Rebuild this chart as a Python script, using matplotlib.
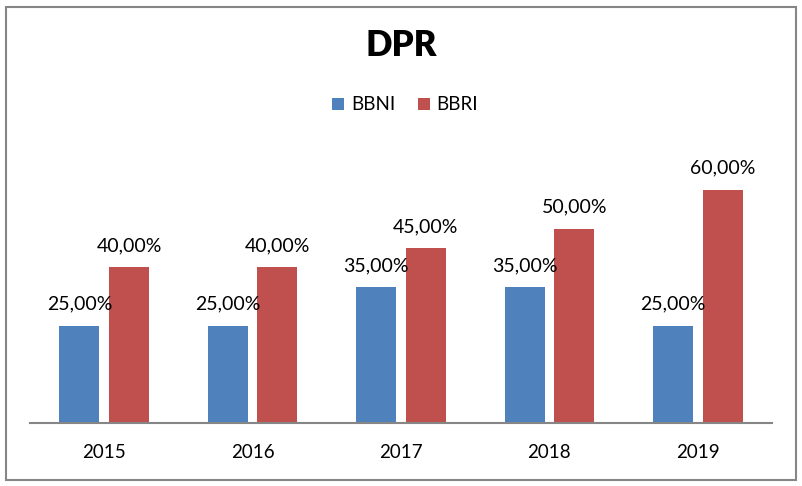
import matplotlib
matplotlib.use("Agg")
import matplotlib.pyplot as plt
from matplotlib.patches import Rectangle
import numpy as np

plt.rcParams['font.family'] = ['Lato', 'DejaVu Sans']

# data
years = ['2015', '2016', '2017', '2018', '2019']
bbni = [25, 25, 35, 35, 25]
bbri = [40, 40, 45, 50, 60]

blue = '#4F81BD'
red = '#C0504D'
grey = '#868686'

fig = plt.figure(figsize=(8.02, 4.86), dpi=100)
ax = fig.add_axes([30 / 802, 63 / 486, 742 / 802, 273 / 486])

x = np.arange(len(years))
w = 0.27
off = 0.167
b1 = ax.bar(x - off, bbni, w, color=blue, label='BBNI')
b2 = ax.bar(x + off, bbri, w, color=red, label='BBRI')

# data labels above each bar
for bars, vals in [(b1, bbni), (b2, bbri)]:
    for rect, v in zip(bars, vals):
        ax.annotate(f'{v:.2f}%'.replace('.', ','),
                    (rect.get_x() + rect.get_width() / 2, rect.get_height()),
                    xytext=(0, 11.5), textcoords='offset points',
                    ha='center', va='baseline', fontsize=14)

ax.set_xlim(-0.5, len(years) - 0.5)
ax.set_ylim(0, 70.2)
ax.set_xticks(x)
ax.set_xticklabels(years, fontsize=13.5)
ax.tick_params(axis='x', length=0, pad=15)
ax.set_yticks([])
for s in ['top', 'right', 'left']:
    ax.spines[s].set_visible(False)
ax.spines['bottom'].set_color(grey)
ax.spines['bottom'].set_linewidth(1.5)

fig.text(401 / 802, 1 - 46 / 486, 'DPR', ha='center', va='center',
         fontsize=25, fontweight='heavy')

fig.legend(handles=[b1, b2], loc='center', bbox_to_anchor=(405 / 802, 1 - 105 / 486),
           ncol=2, frameon=False, fontsize=13.5, handlelength=0.65, handleheight=0.65,
           handletextpad=0.35, columnspacing=1.2)

# outer chart border
fig.patches.append(Rectangle((6 / 802, 6 / 486), 790 / 802, 473 / 486,
                             transform=fig.transFigure, fill=False,
                             edgecolor=grey, linewidth=1.5))

plt.savefig('out.png', dpi=100)
